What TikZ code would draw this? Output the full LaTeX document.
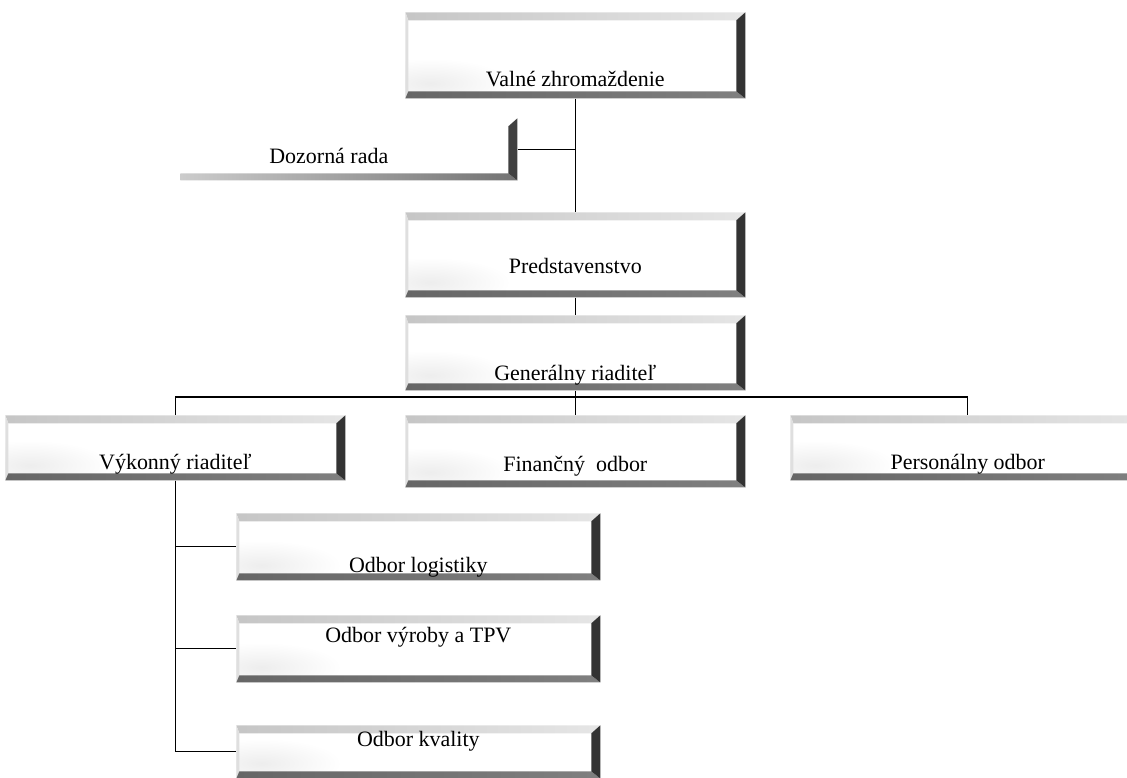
\documentclass[tikz,border=0pt]{standalone}
\usepackage{fontspec}
\setmainfont{Liberation Serif}
\usetikzlibrary{calc}

\def\bT{0.16cm} % top bevel
\def\bB{0.14cm} % bottom bevel
\def\bR{0.18cm} % right bevel
\def\bL{0.06cm} % left bevel

\tikzset{
  link/.style={line width=0.7pt},
  org/.style={rectangle, inner sep=0pt, anchor=north west, align=center,
    font=\fontsize{12.5}{15}\selectfont},
  topbevel/.style={path picture={
    \shade[left color=gray!45, right color=gray!20]
      (path picture bounding box.north west) -- (path picture bounding box.north east)
      -- ([shift={(-\bR,-\bT)}]path picture bounding box.north east)
      -- ([shift={(\bL,-\bT)}]path picture bounding box.north west) -- cycle;
    \shade[inner color=gray!14, outer color=white]
      ([shift={(0.5cm,0.3cm)}]path picture bounding box.south west) ellipse (1.6cm and 0.5cm);
    \fill[gray!25]
      (path picture bounding box.north west) -- ([shift={(\bL,-\bT)}]path picture bounding box.north west)
      -- ([shift={(\bL,\bB)}]path picture bounding box.south west)
      -- (path picture bounding box.south west) -- cycle;
    \shade[left color=black!60, right color=black!50]
      (path picture bounding box.south west) -- (path picture bounding box.south east)
      -- ([shift={(-\bR,\bB)}]path picture bounding box.south east)
      -- ([shift={(\bL,\bB)}]path picture bounding box.south west) -- cycle;
    \fill[black!80]
      (path picture bounding box.north east) -- (path picture bounding box.south east)
      -- ([shift={(-\bR,\bB)}]path picture bounding box.south east)
      -- ([shift={(-\bR,-\bT)}]path picture bounding box.north east) -- cycle;
  }},
  sidebevel/.style={path picture={
    \shade[left color=black!20, right color=black!55]
      (path picture bounding box.south west) -- (path picture bounding box.south east)
      -- ([shift={(-\bR,\bB)}]path picture bounding box.south east)
      -- ([shift={(0,\bB)}]path picture bounding box.south west) -- cycle;
    \fill[black!75]
      (path picture bounding box.north east) -- (path picture bounding box.south east)
      -- ([shift={(-\bR,\bB)}]path picture bounding box.south east)
      -- ([shift={(-\bR,-\bT)}]path picture bounding box.north east) -- cycle;
  }}
}

\begin{document}
\begin{tikzpicture}[x=0.02cm, y=-0.02cm]
\useasboundingbox (0,0) rectangle (1127,778);
\clip (0,0) rectangle (1127,778);

% upper levels
\node[org, topbevel, minimum width=6.8cm, text height=74*0.02cm, text depth=12*0.02cm]
  (valne) at (405,12) {Valné zhromaždenie};
\node[org, sidebevel, minimum width=6.74cm, text height=45*0.02cm, text depth=17*0.02cm]
  (dozor) at (180,118) {Dozorná rada\hspace*{0.8cm}};
\node[org, topbevel, minimum width=6.8cm, text height=61*0.02cm, text depth=24*0.02cm]
  (pred) at (405,212) {Predstavenstvo};
\node[org, topbevel, minimum width=6.8cm, text height=65*0.02cm, text depth=10*0.02cm]
  (gen) at (405,315) {Generálny riaditeľ};

% second level
\node[org, topbevel, minimum width=6.8cm, text height=54*0.02cm, text depth=11*0.02cm]
  (vyk) at (5,415) {Výkonný riaditeľ};
\node[org, topbevel, minimum width=6.8cm, text height=56*0.02cm, text depth=16*0.02cm]
  (fin) at (405,415) {Finančný\ \ odbor};
\node[org, topbevel, minimum width=7.1cm, text height=54*0.02cm, text depth=11*0.02cm]
  (pers) at (790,415) {Personálny odbor};

% under Vykonny riaditel
\node[org, topbevel, minimum width=7.28cm, text height=59*0.02cm, text depth=8*0.02cm]
  (odlog) at (236,513) {Odbor logistiky};
\node[org, topbevel, minimum width=7.28cm, text height=27*0.02cm, text depth=40*0.02cm]
  (odvyr) at (236,615) {Odbor výroby a TPV};
\node[org, topbevel, minimum width=7.28cm, text height=21*0.02cm, text depth=32*0.02cm]
  (odkval) at (236,725) {Odbor kvality};

\coordinate (bus) at (572,397);

\draw[link] (valne.south) -- (pred.north);
\draw[link] (dozor.east) -- (dozor.east -| valne.south);
\draw[link] (pred.south) -- (gen.north);
\draw[link] (gen.south) -- (fin.north);
\draw[link] (vyk.north) |- (bus) -| (pers.north);
\draw[link] (vyk.south) |- (odlog.west);
\draw[link] (vyk.south) |- (odvyr.west);
\draw[link] (vyk.south) |- (odkval.west);
\end{tikzpicture}
\end{document}
